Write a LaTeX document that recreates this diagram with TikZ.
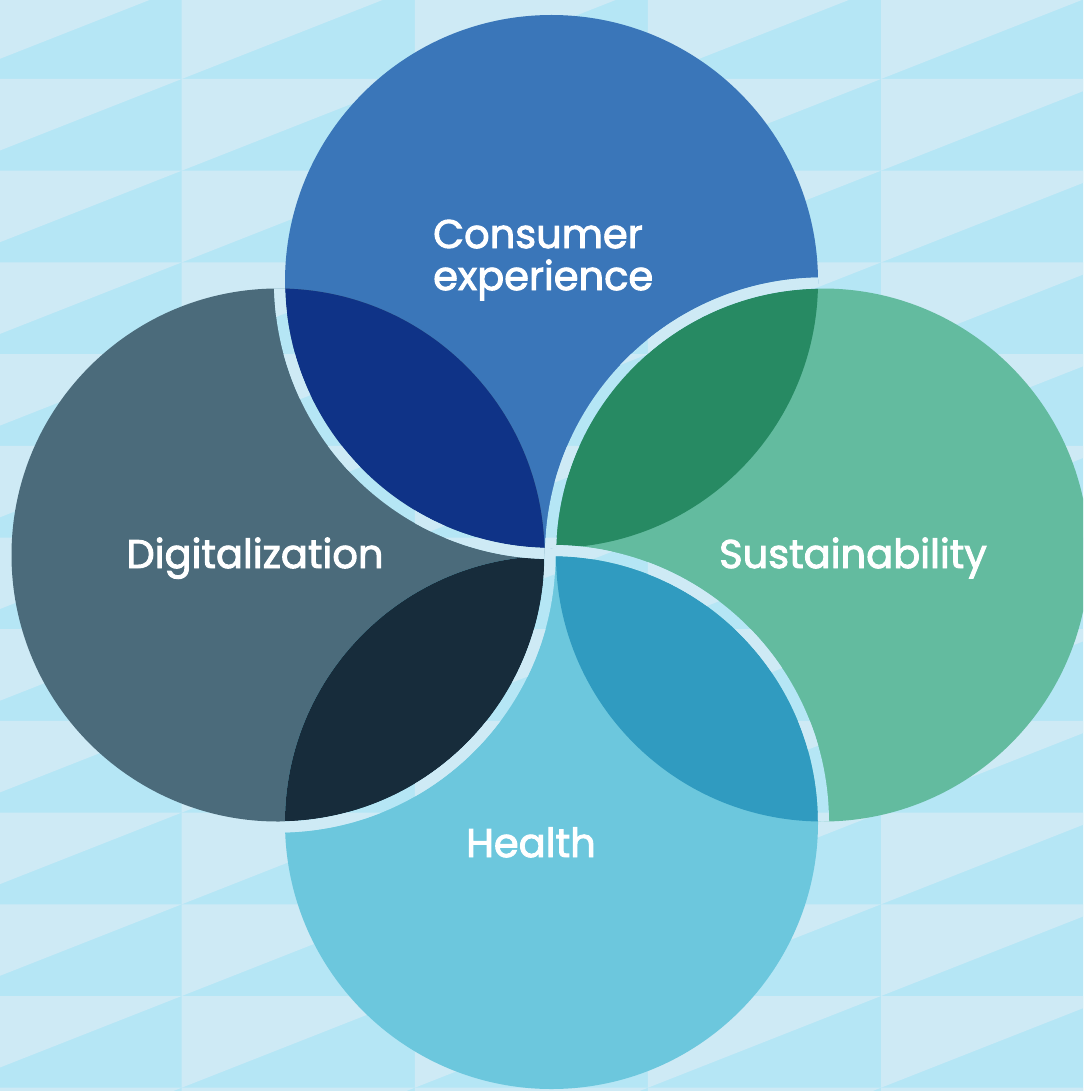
\documentclass[tikz,border=0pt]{standalone}
\usepackage{fontspec}
\newfontfamily\labfont[FakeBold=2.4]{Poppins}
\definecolor{bglight}{HTML}{CEEAF5}
\definecolor{bgdark}{HTML}{B5E6F5}
\definecolor{colT}{HTML}{3A76B9}
\definecolor{colL}{HTML}{4B6B7B}
\definecolor{colR}{HTML}{63BB9F}
\definecolor{colB}{HTML}{6CC7DD}
\definecolor{colTL}{HTML}{0F3387}
\definecolor{colTR}{HTML}{278A63}
\definecolor{colLB}{HTML}{172C3B}
\definecolor{colRB}{HTML}{309BC0}
\newcommand\bgpattern{%
  \fill[bgdark] (-10,-20) rectangle (1100,1110);
  \foreach \i in {0,...,5}{
    \foreach \j in {0,...,12}{
      \fill[bglight] ({-51.4+233.1*\i},{-12.7+91.7*\j}) -- ++(233.1,0) -- ++(-233.1,91.7) -- cycle;
    }
  }%
}
\newcommand\gapring[2]{% #1 = lower circle, #2 = upper circle
  \begin{scope}
    \clip (#1) circle[radius=266.5pt];
    \begin{scope}[even odd rule]
      \clip (#2) circle[radius=277.5pt] (#2) circle[radius=266.5pt];
      \bgpattern
    \end{scope}
  \end{scope}%
}
\tikzset{
  lab/.style={text=white, inner sep=0pt, font=\labfont\fontsize{40}{46}\selectfont},
}
\begin{document}
\begin{tikzpicture}[x=1pt,y=-1pt]
\useasboundingbox (0,0) rectangle (1083,1091);
\clip (0,0) rectangle (1083,1091);
\bgpattern
\coordinate (cT) at (551.5,281.5);
\coordinate (cL) at (278,555);
\coordinate (cR) at (822.5,555);
\coordinate (cB) at (551.5,822.5);
% circles
\fill[colT] (cT) circle[radius=266.5pt];
\fill[colL] (cL) circle[radius=266.5pt];
\fill[colR] (cR) circle[radius=266.5pt];
\fill[colB] (cB) circle[radius=266.5pt];
% lenses
\begin{scope}\clip (cT) circle[radius=266.5pt]; \fill[colTL] (cL) circle[radius=266.5pt];\end{scope}
\begin{scope}\clip (cT) circle[radius=266.5pt]; \fill[colTR] (cR) circle[radius=266.5pt];\end{scope}
\begin{scope}\clip (cB) circle[radius=266.5pt]; \fill[colLB] (cL) circle[radius=266.5pt];\end{scope}
\begin{scope}\clip (cB) circle[radius=266.5pt]; \fill[colRB] (cR) circle[radius=266.5pt];\end{scope}
% gaps: upper circle's ring cuts the lower circle
\gapring{cL}{cT}
\gapring{cB}{cL}
\gapring{cR}{cB}
\gapring{cT}{cR}
% labels
\node[lab, anchor=base west] (tC1) at (433,248) {Consumer};
\node[lab, anchor=base west] (tC2) at (433,290) {experience};
\node[lab, anchor=base] (tD) at (255,568) {Digitalization};
\node[lab, anchor=base] (tS) at (853,568) {Sustainability};
\node[lab, anchor=base] (tH) at (531,857) {Health};
\end{tikzpicture}
\end{document}
